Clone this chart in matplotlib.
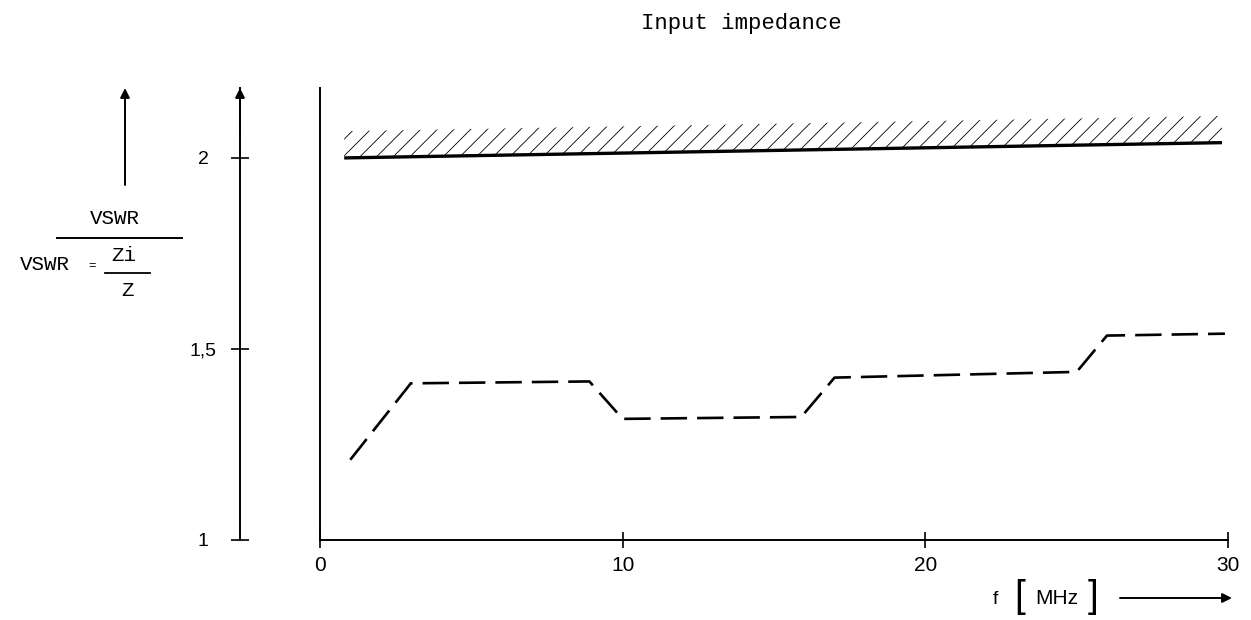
import matplotlib
matplotlib.use("Agg")
import matplotlib.pyplot as plt
from matplotlib.lines import Line2D

# data
freq_limit = [0.8, 29.8]
vswr_limit = [2.0, 2.04]

freq = [1.0, 3.0, 8.9, 10.0, 15.9, 17.0, 25.0, 26.0, 29.9]
vswr = [1.21, 1.41, 1.415, 1.317, 1.322, 1.425, 1.44, 1.535, 1.54]

x_ticks = [0, 10, 20, 30]
x_ticklabels = ["0", "10", "20", "30"]
y_ticks = [1, 1.5, 2]
y_ticklabels = ["1", "1,5", "2"]

W, H = 1251, 620
MONO = "Liberation Mono"
plt.rcParams["hatch.linewidth"] = 0.6


def fx(x):
    return x / W


def fy(y):
    return 1 - y / H


fig = plt.figure(figsize=(W / 100, H / 100), dpi=100)

# main plot area
ax = fig.add_axes([fx(320), fy(540), fx(1228) - fx(320), fy(88) - fy(540)])
ax.set_xlim(0, 30)
ax.set_ylim(1, 2.183)
ax.spines["top"].set_visible(False)
ax.spines["right"].set_visible(False)
ax.spines["left"].set_linewidth(1.4)
ax.spines["bottom"].set_linewidth(1.4)
ax.set_yticks([])
ax.set_xticks(x_ticks)
ax.set_xticklabels(x_ticklabels, fontsize=15, family="Liberation Sans")
ax.tick_params(axis="x", direction="inout", length=11, width=1.2, pad=6)

ax.plot(freq_limit, vswr_limit, color="black", lw=2.4, solid_capstyle="butt")
ax.fill_between(freq_limit, vswr_limit, [v + 0.07 for v in vswr_limit],
                facecolor="none", edgecolor="black", hatch="//", linewidth=0)
ax.plot(freq, vswr, color="black", lw=1.9, linestyle=(0, (10, 3.8)))

# separate scale line on the left
ax2 = fig.add_axes([fx(240), fy(540), 0.001, fy(88) - fy(540)])
ax2.set_ylim(1, 2.183)
ax2.set_xticks([])
for s in ["top", "right", "bottom"]:
    ax2.spines[s].set_visible(False)
ax2.spines["left"].set_linewidth(1.4)
ax2.set_yticks(y_ticks)
ax2.set_yticklabels(y_ticklabels, fontsize=14, family="Liberation Sans", ha="center")
ax2.tick_params(axis="y", direction="inout", length=13, width=1.2, pad=20)
ax2.patch.set_visible(False)

arrow = dict(arrowstyle="-|>", color="black", lw=1.4, mutation_scale=14, shrinkA=0, shrinkB=0)
fig.add_artist(matplotlib.patches.FancyArrowPatch((fx(240), fy(130)), (fx(240), fy(88)),
                                                  transform=fig.transFigure, **arrow))
fig.add_artist(matplotlib.patches.FancyArrowPatch((fx(125), fy(185)), (fx(125), fy(88)),
                                                  transform=fig.transFigure, **arrow))
fig.add_artist(matplotlib.patches.FancyArrowPatch((fx(1120), fy(598)), (fx(1232), fy(598)),
                                                  transform=fig.transFigure, **arrow))

# title
fig.text(fx(741), fy(23), "Input impedance", family=MONO, fontsize=16,
         ha="center", va="center")

# y label as a fraction
fig.text(fx(115), fy(219), "VSWR", family=MONO, fontsize=15, ha="center", va="center")
fig.add_artist(Line2D([fx(57), fx(182)], [fy(238), fy(238)], color="black", lw=1.4,
                      transform=fig.transFigure))
fig.text(fx(45), fy(264), "VSWR", family=MONO, fontsize=15, ha="center", va="center")
fig.text(fx(92), fy(266), "=", family=MONO, fontsize=9, ha="center", va="center")
fig.text(fx(124), fy(255), "Zi", family=MONO, fontsize=15, ha="center", va="center")
fig.add_artist(Line2D([fx(105), fx(150)], [fy(273), fy(273)], color="black", lw=1.3,
                      transform=fig.transFigure))
fig.text(fx(127), fy(290), "Z", family=MONO, fontsize=15, ha="center", va="center")

# x label  f [MHz]
fig.text(fx(995), fy(599), "f", family="Liberation Sans", fontsize=14, ha="center", va="center")
fig.text(fx(1020), fy(597), "[", family="Liberation Sans", fontsize=28, ha="center", va="center")
fig.text(fx(1057), fy(599), "MHz", family="Liberation Sans", fontsize=15, ha="center", va="center")
fig.text(fx(1093), fy(597), "]", family="Liberation Sans", fontsize=28, ha="center", va="center")

fig.savefig("out.png", dpi=100, facecolor="white")
